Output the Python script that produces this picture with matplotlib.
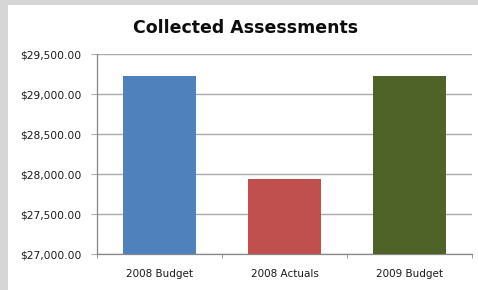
import matplotlib
matplotlib.use("Agg")
import matplotlib.pyplot as plt
from matplotlib.patches import Rectangle
from matplotlib.ticker import FuncFormatter
import numpy as np

categories = ["2008 Budget", "2008 Actuals", "2009 Budget"]
values = [29225, 27937.5, 29225]
bar_colors = ["#4f81bd", "#c0504d", "#4f6228"]
y_ticks = [27000, 27500, 28000, 28500, 29000, 29500]

fig = plt.figure(figsize=(4.78, 2.90), dpi=100)
fig.patch.set_facecolor("#d6d6d6")
# white chart area on top of grey backdrop
fig.patches.append(Rectangle((8 / 478, 0), 1, 1 - 5 / 290, transform=fig.transFigure,
                             facecolor="white", edgecolor="none", zorder=-1))

ax = fig.add_axes([97 / 478, 1 - 254 / 290, 375 / 478, 200 / 290])
ax.set_zorder(1)
ax.set_facecolor("white")

x = np.arange(len(categories))
ax.bar(x, values, width=0.58, color=bar_colors, zorder=3)

ax.set_xlim(-0.5, len(categories) - 0.5)
ax.set_ylim(27000, 29500)
ax.set_yticks(y_ticks)
ax.yaxis.set_major_formatter(FuncFormatter(lambda v, p: "${:,.2f}".format(v)))
ax.grid(axis="y", color="#ababab", linewidth=1.0, zorder=0)

ax.set_xticks(x)
ax.set_xticklabels(categories, fontsize=7.5, color="#1a1a1a")
ax.set_xticks(np.arange(-0.5, len(categories), 1), minor=True)
ax.tick_params(axis="x", which="major", length=0, pad=11)
ax.tick_params(axis="x", which="minor", length=3, color="#8c8c8c", direction="out")
ax.tick_params(axis="y", length=4, color="#ababab", labelsize=7.7, labelcolor="#1a1a1a", pad=7)

for s in ["top", "right"]:
    ax.spines[s].set_visible(False)
for s in ["left", "bottom"]:
    ax.spines[s].set_color("#868686")
    ax.spines[s].set_linewidth(0.9)

fig.text(246 / 478, 1 - 28 / 290, "Collected Assessments", ha="center", va="center",
         fontsize=12.5, fontweight="bold", color="#0d0d0d")

fig.savefig("out.png", dpi=100, facecolor=fig.get_facecolor())
